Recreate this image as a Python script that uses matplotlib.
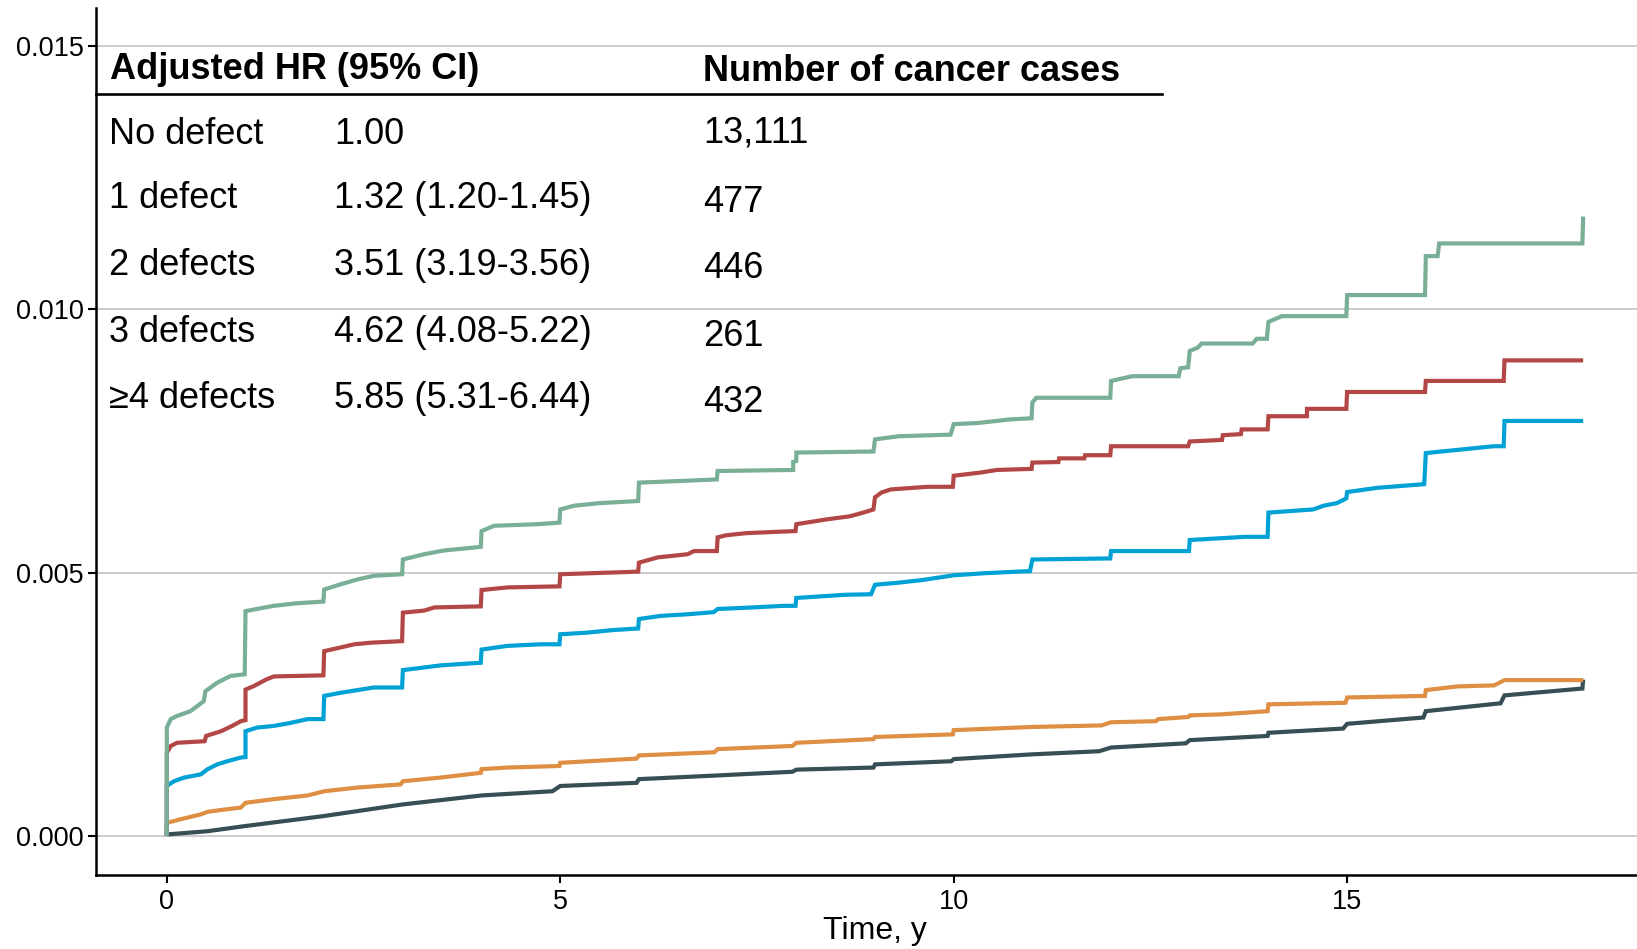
import numpy as np
import matplotlib
matplotlib.use("Agg")
import matplotlib.pyplot as plt
from matplotlib.lines import Line2D

plt.rcParams['font.family'] = ['Liberation Sans', 'DejaVu Sans']

# ---------------- data ----------------
groups = ["No defect", "1 defect", "2 defects", "3 defects", "\u22654 defects"]
hr_text = ["1.00", "1.32 (1.20-1.45)", "3.51 (3.19-3.56)", "4.62 (4.08-5.22)", "5.85 (5.31-6.44)"]
n_cases = ["13,111", "477", "446", "261", "432"]
colors = ["#374E55", "#DF8F44", "#00A1D5", "#B24745", "#79AF97"]

# cumulative incidence, values in units of 1/1000
t_none = [0, 0, 0.51, 1.0, 2.0, 3.0, 4.0, 4.9, 5.0, 5.97, 6.0, 7.0, 7.95, 8.0, 8.98, 9.0, 9.97,
          10.0, 10.99, 11.85, 12.0, 12.95, 13.0, 13.99, 14.0, 14.95, 15.0, 15.97, 16.0, 16.95,
          17.0, 17.99, 18.0]
cif_none = [0, 0.03, 0.09, 0.19, 0.38, 0.60, 0.77, 0.85, 0.95, 1.01, 1.08, 1.15, 1.22, 1.26, 1.30,
            1.36, 1.42, 1.46, 1.55, 1.61, 1.68, 1.76, 1.82, 1.90, 1.96, 2.04, 2.13, 2.25, 2.37,
            2.52, 2.67, 2.80, 2.97]

t_one = [0, 0, 0.18, 0.43, 0.52, 0.77, 0.94, 1.0, 1.36, 1.79, 2.0, 2.42, 2.97, 3.0, 3.48, 3.99,
         4.0, 4.33, 4.99, 5.0, 5.97, 6.0, 6.96, 7.0, 7.95, 8.0, 8.98, 9.0, 9.99, 10.0, 10.99,
         11.88, 12.0, 12.57, 12.6, 12.98, 13.0, 13.4, 13.99, 14.0, 14.98, 15.0, 15.99, 16.0,
         16.4, 16.87, 17.0, 18.0]
cif_one = [0, 0.25, 0.32, 0.41, 0.46, 0.51, 0.54, 0.63, 0.70, 0.77, 0.85, 0.92, 0.98, 1.04, 1.11,
           1.20, 1.27, 1.30, 1.33, 1.39, 1.47, 1.53, 1.59, 1.65, 1.71, 1.77, 1.84, 1.88, 1.93,
           2.01, 2.07, 2.10, 2.16, 2.18, 2.22, 2.26, 2.29, 2.31, 2.37, 2.50, 2.53, 2.63, 2.66,
           2.77, 2.84, 2.86, 2.96, 2.96]

t_two = [0, 0, 0.09, 0.22, 0.43, 0.52, 0.64, 0.77, 0.94, 1.0, 1.0, 1.15, 1.36, 1.58, 1.79, 1.99,
         2.0, 2.21, 2.42, 2.63, 2.99, 3.0, 3.27, 3.48, 3.99, 4.0, 4.33, 4.75, 4.99, 5.0, 5.33,
         5.67, 5.99, 6.0, 6.28, 6.62, 6.95, 7.0, 7.45, 7.83, 7.99, 8.0, 8.62, 8.95, 9.0, 9.3,
         9.6, 10.0, 10.4, 10.97, 11.0, 11.99, 12.0, 12.99, 13.0, 13.7, 13.99, 14.0, 14.57, 14.7,
         14.87, 14.99, 15.0, 15.38, 15.98, 16.0, 16.86, 16.99, 17.0, 18.0]
cif_two = [0, 0.95, 1.04, 1.11, 1.17, 1.27, 1.36, 1.42, 1.49, 1.50, 1.99, 2.06, 2.09, 2.15, 2.22,
           2.22, 2.66, 2.72, 2.77, 2.82, 2.82, 3.15, 3.20, 3.24, 3.29, 3.54, 3.61, 3.64, 3.64,
           3.83, 3.86, 3.91, 3.94, 4.12, 4.18, 4.21, 4.25, 4.31, 4.34, 4.37, 4.37, 4.52, 4.58,
           4.59, 4.77, 4.81, 4.86, 4.95, 4.99, 5.03, 5.25, 5.27, 5.41, 5.41, 5.62, 5.68, 5.68,
           6.14, 6.20, 6.27, 6.32, 6.41, 6.53, 6.61, 6.68, 7.27, 7.40, 7.40, 7.88, 7.88]

t_three = [0, 0, 0.05, 0.13, 0.48, 0.50, 0.69, 0.83, 0.94, 1.0, 1.0, 1.11, 1.26, 1.36, 1.99, 2.0,
           2.21, 2.38, 2.59, 2.99, 3.0, 3.27, 3.40, 3.99, 4.0, 4.33, 4.99, 5.0, 5.81, 5.99, 6.0,
           6.24, 6.62, 6.70, 6.99, 7.0, 7.11, 7.36, 7.99, 8.0, 8.38, 8.68, 8.85, 8.98, 9.0, 9.08,
           9.2, 9.67, 9.99, 10.0, 10.34, 10.55, 10.99, 11.0, 11.33, 11.34, 11.66, 11.67, 11.99,
           12.0, 12.98, 13.0, 13.41, 13.42, 13.65, 13.66, 13.99, 14.0, 14.49, 14.49, 14.99,
           15.0, 15.99, 16.0, 16.99, 17.0, 18.0]
cif_three = [0, 1.58, 1.71, 1.77, 1.80, 1.90, 1.99, 2.09, 2.18, 2.20, 2.78, 2.85, 2.97, 3.03, 3.05,
             3.51, 3.58, 3.64, 3.67, 3.70, 4.24, 4.28, 4.34, 4.36, 4.67, 4.72, 4.74, 4.97, 5.01,
             5.02, 5.19, 5.29, 5.35, 5.41, 5.41, 5.67, 5.71, 5.75, 5.79, 5.92, 6.01, 6.07, 6.14,
             6.20, 6.43, 6.52, 6.58, 6.63, 6.63, 6.84, 6.90, 6.95, 6.97, 7.09, 7.10, 7.17, 7.17,
             7.23, 7.23, 7.40, 7.40, 7.49, 7.52, 7.61, 7.63, 7.72, 7.72, 7.97, 7.97, 8.11, 8.11,
             8.43, 8.43, 8.64, 8.64, 9.03, 9.03]

t_four = [0, 0, 0.05, 0.13, 0.30, 0.47, 0.49, 0.64, 0.81, 0.99, 1.0, 1.36, 1.66, 1.99, 2.0, 2.21,
          2.42, 2.63, 2.99, 3.0, 3.27, 3.52, 3.99, 4.0, 4.16, 4.71, 4.99, 5.0, 5.17, 5.5, 5.99,
          6.0, 6.52, 6.99, 7.0, 7.96, 7.96, 8.0, 8.0, 8.98, 9.0, 9.3, 9.96, 10.0, 10.3, 10.72,
          10.99, 11.0, 11.05, 11.99, 12.0, 12.27, 12.86, 12.88, 12.98, 13.0, 13.1, 13.15, 13.8,
          13.85, 13.98, 14.0, 14.17, 14.99, 15.0, 15.99, 16.0, 16.15, 16.17, 17.99, 18.0]
cif_four = [0, 2.06, 2.22, 2.28, 2.37, 2.56, 2.75, 2.91, 3.04, 3.07, 4.27, 4.37, 4.42, 4.45, 4.68,
            4.78, 4.87, 4.94, 4.97, 5.25, 5.35, 5.42, 5.49, 5.79, 5.89, 5.92, 5.95, 6.20, 6.27,
            6.32, 6.36, 6.71, 6.74, 6.77, 6.93, 6.95, 7.10, 7.12, 7.28, 7.30, 7.53, 7.59, 7.62,
            7.82, 7.84, 7.91, 7.93, 8.23, 8.32, 8.32, 8.64, 8.73, 8.73, 8.88, 8.90, 9.21, 9.27,
            9.35, 9.35, 9.44, 9.44, 9.76, 9.87, 9.87, 10.27, 10.27, 11.01, 11.01, 11.25, 11.25,
            11.76]

series_t = [t_none, t_one, t_two, t_three, t_four]
series_v = [cif_none, cif_one, cif_two, cif_three, cif_four]

x_ticks = [0, 5, 10, 15]
y_ticks = [0.000, 0.005, 0.010, 0.015]
y_ticklabels = ["0.000", "0.005", "0.010", "0.015"]

# ---------------- figure ----------------
W, H = 1637, 949
fig = plt.figure(figsize=(W / 100, H / 100), dpi=100)

def fx(px):
    return px / W

def fy(py):
    return 1 - py / H

ax_left, ax_right, ax_top, ax_bottom = 96, 1654, 8, 875
ax = fig.add_axes([fx(ax_left), fy(ax_bottom), (ax_right - ax_left) / W, (ax_bottom - ax_top) / H])

for t, v, c in zip(series_t, series_v, colors):
    ax.plot(t, np.array(v) / 1000.0, color=c, lw=3.0, solid_joinstyle='miter',
            solid_capstyle='butt', zorder=3)

ax.set_xlim(-0.9, 18.9)
ax.set_ylim(-0.00074, 0.01572)
ax.set_xticks(x_ticks)
ax.set_yticks(y_ticks)
ax.set_yticklabels(y_ticklabels)
ax.yaxis.grid(True, color="#C4C4C4", lw=1.2, zorder=0)
ax.xaxis.grid(False)
ax.set_axisbelow(True)

for s in ["top", "right"]:
    ax.spines[s].set_visible(False)
for s in ["left", "bottom"]:
    ax.spines[s].set_linewidth(1.8)
    ax.spines[s].set_color("black")
ax.tick_params(axis="both", which="major", length=5.5, width=1.5, color="black",
               labelsize=19.5, labelcolor="black", pad=3.5)
ax.tick_params(axis="x", pad=4.5)

ax.set_xlabel("Time, y", fontsize=23, labelpad=2)
ax.xaxis.set_label_coords((875 - ax_left) / (ax_right - ax_left), -0.047)

# ---------------- annotation table ----------------
fs = 26
fig.text(fx(110), fy(79), "Adjusted HR (95% CI)", fontsize=fs, fontweight="bold",
         va="baseline", ha="left")
fig.text(fx(703), fy(81), "Number of cancer cases", fontsize=fs, fontweight="bold",
         va="baseline", ha="left")
fig.add_artist(Line2D([fx(96), fx(1162)], [fy(94), fy(94)], color="black", lw=1.9,
                      transform=fig.transFigure))

row_base = [144, 208, 275, 342, 408]
num_base = [143, 212, 278, 346, 412]
for g, hr, n, yb, nb in zip(groups, hr_text, n_cases, row_base, num_base):
    fig.text(fx(109), fy(yb), g, fontsize=fs, va="baseline", ha="left")
    fig.text(fx(334), fy(yb), hr, fontsize=fs, va="baseline", ha="left")
    fig.text(fx(703), fy(nb), n, fontsize=fs, va="baseline", ha="left")

fig.savefig("out.png", dpi=100, facecolor="white")
